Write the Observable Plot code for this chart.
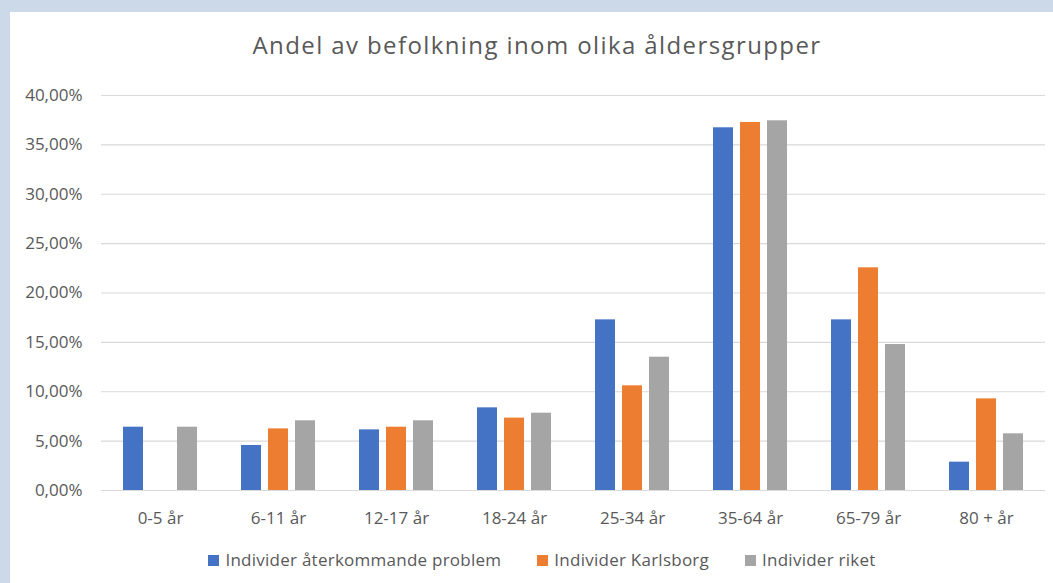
<!DOCTYPE html>
<html>
<head>
<meta charset="utf-8">
<script src="https://cdn.jsdelivr.net/npm/d3@7"></script>
<script src="https://cdn.jsdelivr.net/npm/@observablehq/plot@0.6"></script>
<style>
  html, body { margin: 0; padding: 0; }
  body { background: #ccd9e8; width: 1053px; height: 583px; overflow: hidden; position: relative; font-family: "Open Sans", sans-serif; }
  #panel { position: absolute; left: 10px; top: 12px; width: 1043px; height: 571px; background: #ffffff; }
  #title { position: absolute; left: 0; top: 19px; width: 1054px; text-align: center; font-size: 24px; letter-spacing: 1.4px; line-height: 28px; color: #595959; white-space: nowrap; }
  #chart { position: absolute; left: 0; top: 0; }
  #legend { position: absolute; left: 0; top: 538px; width: 1064px; display: flex; justify-content: center; font-size: 17px; letter-spacing: 0.25px; line-height: 20px; color: #595959; white-space: nowrap; }
  .item { display: flex; align-items: center; margin: 0 18px; }
  .sw { width: 11px; height: 11px; margin-right: 6px; }
</style>
</head>
<body>
<div id="panel">
  <div id="title"></div>
  <div id="chart"></div>
  <div id="legend"></div>
</div>
<script>
const titleText = "Andel av befolkning inom olika åldersgrupper";
const categories = ["0-5 år", "6-11 år", "12-17 år", "18-24 år", "25-34 år", "35-64 år", "65-79 år", "80 + år"];
const seriesNames = ["Individer återkommande problem", "Individer Karlsborg", "Individer riket"];
const seriesColors = ["#4472c4", "#ed7d31", "#a5a5a5"];
const problem = [6.41, 4.56, 6.14, 8.37, 17.28, 36.73, 17.28, 2.87];
const karlsborg = [null, 6.24, 6.41, 7.33, 10.60, 37.27, 22.55, 9.28];
const riket = [6.41, 7.06, 7.06, 7.83, 13.50, 37.44, 14.78, 5.74];
const yTicks = [0, 5, 10, 15, 20, 25, 30, 35, 40];

const seriesValues = [problem, karlsborg, riket];
const data = [];
categories.forEach((c, i) => {
  seriesNames.forEach((s, j) => {
    const v = seriesValues[j][i];
    if (v != null) data.push({category: c, series: s, value: v});
  });
});

document.getElementById("title").textContent = titleText;

const fmt = d => d.toFixed(2).replace(".", ",") + "%";

const plot = Plot.plot({
  width: 1043,
  height: 571,
  marginLeft: 91,
  marginRight: 8,
  marginTop: 83,
  marginBottom: 93,
  style: {fontFamily: "Open Sans", fontSize: "17px", color: "#595959", background: "transparent", overflow: "visible"},
  fx: {domain: categories, padding: 0, label: null, tickSize: 0, tickPadding: 21},
  x: {domain: seriesNames, axis: null, paddingInner: 0.26, paddingOuter: 0.81},
  y: {domain: [0, 40], ticks: yTicks, tickFormat: fmt, label: null, tickSize: 0, tickPadding: 19},
  color: {domain: seriesNames, range: seriesColors},
  marks: [
    Plot.ruleY(yTicks, {stroke: "#d9d9d9", strokeWidth: 1.2}),
    Plot.barY(data, {fx: "category", x: "series", y: "value", fill: "series"})
  ]
});
document.getElementById("chart").appendChild(plot);

const legend = document.getElementById("legend");
seriesNames.forEach((s, j) => {
  const item = document.createElement("div");
  item.className = "item";
  const sw = document.createElement("span");
  sw.className = "sw";
  sw.style.background = seriesColors[j];
  const t = document.createElement("span");
  t.textContent = s;
  item.appendChild(sw);
  item.appendChild(t);
  legend.appendChild(item);
});
</script>
</body>
</html>
